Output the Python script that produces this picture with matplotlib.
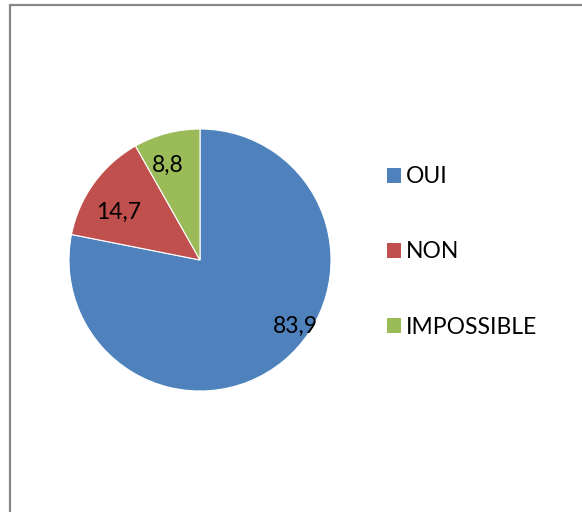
import matplotlib
matplotlib.use("Agg")
import matplotlib.pyplot as plt
from matplotlib.patches import Patch, Rectangle

# Survey answers
categories = ["OUI", "NON", "IMPOSSIBLE"]
values = [83.9, 14.7, 8.8]
value_labels = ["83,9", "14,7", "8,8"]
colors = ["#4F81BD", "#C0504D", "#9BBB59"]

plt.rcParams["font.family"] = ["Lato", "DejaVu Sans"]

W, H = 582, 512
fig = plt.figure(figsize=(W / 100, H / 100), dpi=100)
fig.patch.set_facecolor("white")

# Chart frame (runs off the right and bottom edges)
fig.patches.append(Rectangle((10 / W, -0.1), 1.2, 1 - 5 / H + 0.1,
                             transform=fig.transFigure, fill=False,
                             edgecolor="#878787", linewidth=1.6))

# Pie area
cx, cy, r = 200, 260, 131
ax = fig.add_axes([(cx - r) / W, (H - cy - r) / H, 2 * r / W, 2 * r / H])
wedges, _ = ax.pie(values, colors=colors, startangle=90, counterclock=False,
                   radius=1.0, wedgeprops=dict(edgecolor="white", linewidth=0.8))
ax.set_xlim(-1, 1)
ax.set_ylim(-1, 1)
ax.set_aspect("equal")
ax.axis("off")

# Value labels inside the slices
label_pos = [(0.73, -0.51), (-0.625, 0.36), (-0.245, 0.72)]
for (x, y), txt in zip(label_pos, value_labels):
    ax.text(x, y, txt, ha="center", va="center", fontsize=16.5, color="black")

# Legend
handles = [Patch(facecolor=c, edgecolor="none") for c in colors]
fig.legend(handles, categories, loc="center left",
           bbox_to_anchor=(387 / W, 1 - 252 / H), frameon=False,
           fontsize=16.5, handlelength=0.6, handleheight=0.6,
           handletextpad=0.22, labelspacing=2.36, borderpad=0,
           borderaxespad=0)

fig.savefig("out.png", dpi=100)
